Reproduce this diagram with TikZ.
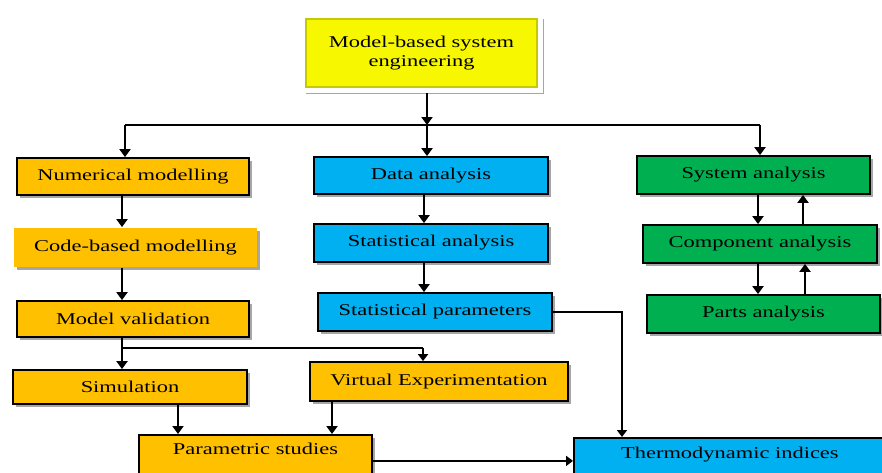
\documentclass[tikz,border=0pt]{standalone}
\usepackage{fontspec}
\setmainfont{Liberation Serif}
\usepackage{graphicx}
\usetikzlibrary{shadows,arrows.meta}
\newcommand{\hs}[1]{\scalebox{1.36}[1]{#1}}
\definecolor{cOr}{HTML}{FFC000}
\definecolor{cBl}{HTML}{00B0F0}
\definecolor{cGr}{HTML}{00B050}
\definecolor{cYe}{HTML}{F7F700}
\definecolor{cYd}{HTML}{C8C800}
\begin{document}
\begin{tikzpicture}[x=1pt,y=-1pt,
  box/.style={draw=black, line width=1.8pt, inner sep=0pt,
    font=\fontsize{16.5}{19.5}\selectfont,
    drop shadow={shadow xshift=3pt,shadow yshift=-3pt,opacity=0.35,fill=black}},
  obox/.style={box, fill=cOr},
  bbox/.style={box, fill=cBl},
  gbox/.style={box, fill=cGr},
  arr/.style={line width=2.8pt, -{Triangle[width=11pt,length=8pt]}},
  arrthin/.style={line width=2pt, -{Triangle[width=10pt,length=7pt]}},
  ln/.style={line width=2.5pt},
  lnthin/.style={line width=2pt}]
\fill[white] (0,0) rectangle (882,472);
\useasboundingbox (0,0) rectangle (882,472);

% top
\node[box, draw=white, line width=5pt, fill=cYe, align=center,
  minimum width=238, minimum height=75,
  path picture={\draw[cYd, line width=2pt]
    ([xshift=3.5pt,yshift=-3.5pt]path picture bounding box.north west) rectangle
    ([xshift=-3.5pt,yshift=3.5pt]path picture bounding box.south east);}] (top) at (421.5,53)
  {\hs{Model-based system}\\\hs{engineering}};

% left column
\node[obox, minimum width=232, minimum height=37] (num) at (133,176.5) {\hs{Numerical modelling}};
\node[obox, draw=none, minimum width=243, minimum height=39] (code) at (135.5,247.5) {\hs{Code-based modelling}};
\node[obox, minimum width=232, minimum height=36] (val) at (133,319) {\hs{Model validation}};
\node[obox, minimum width=234, minimum height=34] (sim) at (130,387) {\hs{Simulation}};
\node[obox, minimum width=258, minimum height=39] (virt) at (439,381.5) {\hs{Virtual Experimentation}};
\node[obox, anchor=north, minimum width=233, minimum height=52, text height=12pt, text depth=24pt] (par) at (255.5,434) {\hs{Parametric studies}};

% middle column
\node[bbox, minimum width=234, minimum height=37] (data) at (431,175.5) {\hs{Data analysis}};
\node[bbox, minimum width=234, minimum height=38] (stat) at (431,243) {\hs{Statistical analysis}};
\node[bbox, minimum width=234, minimum height=38] (spar) at (435,312) {\hs{Statistical parameters}};
\node[bbox, anchor=north west, minimum width=312, minimum height=52, text height=12pt, text depth=22pt] (thermo) at (573,437) {\hs{Thermodynamic indices}};

% right column
\node[gbox, minimum width=233, minimum height=38] (sys) at (753.5,175) {\hs{System analysis}};
\node[gbox, minimum width=234, minimum height=38] (comp) at (760,244) {\hs{Component analysis}};
\node[gbox, minimum width=233, minimum height=38] (parts) at (763.5,314) {\hs{Parts analysis}};

% helper coordinates
\coordinate (busL) at (125,125);
\coordinate (busM) at (427,125);
\coordinate (busR) at (760,125);
\coordinate (cL) at (122,0);
\coordinate (cM) at (424,0);
\coordinate (j1) at (122,348);
\coordinate (cV) at (423,0);
\coordinate (cS) at (178,0);
\coordinate (cP) at (332,0);
\coordinate (cT) at (622,0);
\coordinate (cD) at (758,0);
\coordinate (cU1) at (803,0);
\coordinate (cU2) at (805,0);

% connectors
\draw[arr] (top.south -| busM) -- (busM);
\draw[ln] (busL) -- (busR);
\draw[arr] (busL) -- (busL |- num.north);
\draw[arr] (busM) -- (busM |- data.north);
\draw[arr] (busR) -- (busR |- sys.north);

\draw[arr] (num.south -| cL) -- (code.north -| cL);
\draw[arr] (code.south -| cL) -- (val.north -| cL);
\draw[ln] (val.south -| cL) -- (j1);
\draw[arr] (j1) -- (sim.north -| j1);
\draw[lnthin] (j1) -- (j1 -| cV);
\draw[arrthin] (j1 -| cV) -- (virt.north -| cV);
\draw[arr] (sim.south -| cS) -- (par.north -| cS);
\draw[arr] (virt.south -| cP) -- (par.north -| cP);
\draw[arrthin] (par.east) -- (par.east -| thermo.west);

\draw[arr] (data.south -| cM) -- (stat.north -| cM);
\draw[arr] (stat.south -| cM) -- (spar.north -| cM);
\draw[arrthin] (spar.east) -| (cT |- thermo.north);

\draw[arr] (sys.south -| cD) -- (comp.north -| cD);
\draw[arr] (comp.north -| cU1) -- (sys.south -| cU1);
\draw[arr] (comp.south -| cD) -- (parts.north -| cD);
\draw[arr] (parts.north -| cU2) -- (comp.south -| cU2);
\end{tikzpicture}
\end{document}
